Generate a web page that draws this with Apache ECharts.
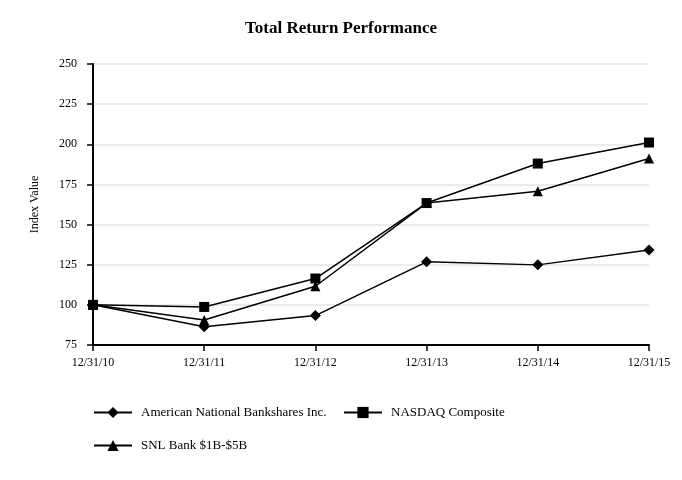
<!DOCTYPE html>
<html><head><meta charset="utf-8">
<script src="https://cdn.jsdelivr.net/npm/echarts@6/dist/echarts.min.js"></script>
<style>html,body{margin:0;padding:0;background:#fff}#c{width:682px;height:480px}</style>
</head><body><div id="c"></div>
<script>
const categories = ['12/31/10','12/31/11','12/31/12','12/31/13','12/31/14','12/31/15'];
const americanNational = [100, 86.4, 93.3, 126.8, 124.9, 134.1];
const nasdaq = [100, 98.7, 116.4, 163.4, 188.0, 201.1];
const snlBank = [100, 90.6, 111.6, 163.4, 170.7, 191.1];
const seriesNames = ['American National Bankshares Inc.', 'NASDAQ Composite', 'SNL Bank $1B-$5B'];

const font = 'Liberation Serif, Times New Roman, serif';
const chart = echarts.init(document.getElementById('c'));
const mkSeries = (name, data, symbol, size) => ({
  name, type: 'line', data, symbol, symbolSize: size,
  lineStyle: { color: '#000', width: 1.5 },
  itemStyle: { color: '#000' },
  animation: false
});
const legendBase = {
  itemWidth: 38, itemHeight: 14, orient: 'horizontal',
  textStyle: { fontFamily: font, fontSize: 13, color: '#000', padding: [0,0,0,4] }
};
chart.setOption({
  backgroundColor: '#fff',
  animation: false,
  title: {
    text: 'Total Return Performance', left: 'center', top: 15,
    textStyle: { fontFamily: font, fontSize: 17, fontWeight: 'bold', color: '#000' }
  },
  legend: [
    Object.assign({}, legendBase, { data: [seriesNames[0]], left: 88, top: 401 }),
    Object.assign({}, legendBase, { data: [seriesNames[1]], left: 338, top: 401 }),
    Object.assign({}, legendBase, { data: [seriesNames[2]], left: 88, top: 434 })
  ],
  grid: { left: 93, right: 33, top: 64, bottom: 135, containLabel: false },
  xAxis: {
    type: 'category', data: categories, boundaryGap: false,
    axisLine: { lineStyle: { color: '#000', width: 2 } },
    axisTick: { show: true, length: 6, lineStyle: { color: '#000', width: 1.5 } },
    axisLabel: { fontFamily: font, fontSize: 12, color: '#000', margin: 12 },
    splitLine: { show: false }
  },
  yAxis: {
    type: 'value', min: 75, max: 250, interval: 25,
    name: 'Index Value', nameLocation: 'middle', nameGap: 52,
    nameTextStyle: { fontFamily: font, fontSize: 12, color: '#000' },
    axisLine: { show: true, lineStyle: { color: '#000', width: 2 } },
    axisTick: { show: true, length: 6, lineStyle: { color: '#000', width: 1.5 } },
    axisLabel: { fontFamily: font, fontSize: 12, color: '#000', margin: 16 },
    splitLine: { show: true, lineStyle: { color: '#e4e4e4', width: 1.5 } }
  },
  series: [
    mkSeries(seriesNames[0], americanNational, 'diamond', 11),
    mkSeries(seriesNames[1], nasdaq, 'rect', 10),
    mkSeries(seriesNames[2], snlBank, 'triangle', 10)
  ]
});
</script></body></html>
